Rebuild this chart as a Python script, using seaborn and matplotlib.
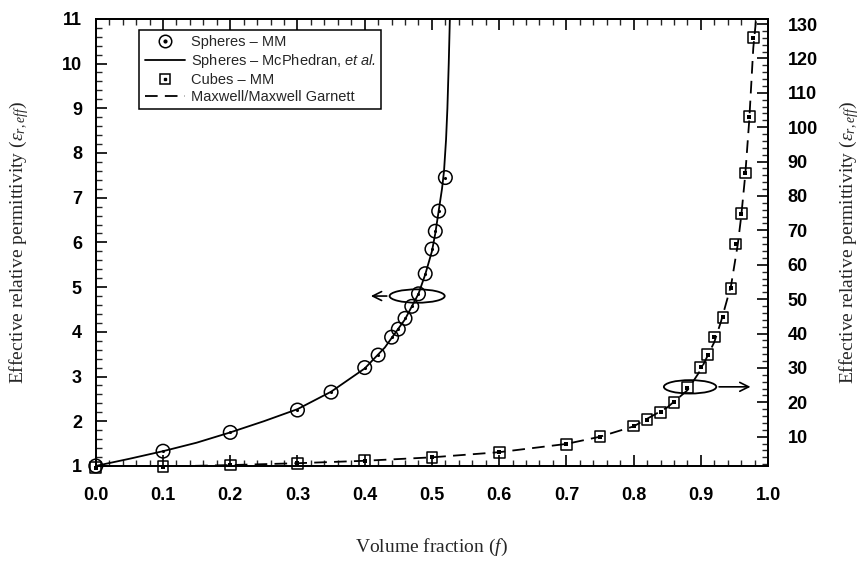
import matplotlib
matplotlib.use("Agg")
import matplotlib.pyplot as plt
import seaborn as sns
from matplotlib.lines import Line2D
from matplotlib.patches import Ellipse, FancyArrowPatch
from matplotlib.ticker import MultipleLocator

# ---------------- data ----------------
# Spheres - MM (circles), left axis
sph_f = [0.0, 0.1, 0.2, 0.3, 0.35, 0.4, 0.42, 0.44, 0.45, 0.46, 0.47, 0.48,
         0.49, 0.50, 0.505, 0.51, 0.52]
sph_eps = [1.0, 1.33, 1.75, 2.25, 2.65, 3.2, 3.48, 3.88, 4.06, 4.3, 4.57, 4.85,
           5.3, 5.85, 6.25, 6.7, 7.45]

# Spheres - McPhedran et al. (solid line), left axis
mcp_f = [0.0, 0.05, 0.1, 0.15, 0.2, 0.25, 0.3, 0.35, 0.4, 0.43, 0.46, 0.48,
         0.49, 0.50, 0.505, 0.51, 0.515, 0.518, 0.521, 0.523, 0.525, 0.527]
mcp_eps = [1.0, 1.16, 1.33, 1.52, 1.75, 2.0, 2.27, 2.66, 3.18, 3.65, 4.28, 4.85,
           5.28, 5.8, 6.2, 6.7, 7.2, 7.6, 8.3, 9.0, 10.0, 11.2]

# Cubes - MM (squares), right axis
cub_f = [0.0, 0.1, 0.2, 0.3, 0.4, 0.5, 0.6, 0.7, 0.75, 0.8, 0.82, 0.84, 0.86,
         0.88, 0.9, 0.91, 0.92, 0.933, 0.945, 0.952, 0.96, 0.966, 0.972, 0.978]
cub_eps = [1.0, 1.3, 1.75, 2.3, 3.0, 4.0, 5.5, 7.8, 10.0, 13.1, 15.0, 17.1, 20.0,
           24.2, 30.2, 33.9, 39.0, 44.7, 53.2, 66.0, 74.8, 86.7, 103.0, 126.0]

# Maxwell / Maxwell Garnett (dashed line), right axis
mg_f = [0.0, 0.1, 0.2, 0.3, 0.4, 0.5, 0.6, 0.7, 0.75, 0.8, 0.85, 0.88, 0.9,
        0.92, 0.93, 0.945, 0.955, 0.96, 0.966, 0.972, 0.978, 0.982]
mg_eps = [1.0, 1.33, 1.75, 2.29, 3.0, 4.0, 5.5, 7.9, 10.0, 13.0, 18.5, 23.5, 29.5,
          37.5, 43.5, 54.0, 66.0, 74.0, 86.0, 102.0, 123.0, 131.0]

x_ticks = [0.0, 0.1, 0.2, 0.3, 0.4, 0.5, 0.6, 0.7, 0.8, 0.9, 1.0]
x_ticklabels = ["0.0", "0.1", "0.2", "0.3", "0.4", "0.5", "0.6", "0.7", "0.8", "0.9", "1.0"]
left_ticks = [1, 2, 3, 4, 5, 6, 7, 8, 9, 10, 11]
right_ticks = [10, 20, 30, 40, 50, 60, 70, 80, 90, 100, 110, 120, 130]

legend_labels = ["Spheres \u2013 MM", "Spheres \u2013 McPhedran, $\\mathsf{et\\ al.}$",
                 "Cubes \u2013 MM", "Maxwell/Maxwell Garnett"]
xlabel = "Volume fraction ($f$)"
ylabel = "Effective relative permittivity ($\\varepsilon_{r,\\mathit{eff}}$)"

# ---------------- style ----------------
sns.set_style("ticks")
plt.rcParams["font.family"] = ["Liberation Sans", "DejaVu Sans"]
plt.rcParams["mathtext.fontset"] = "custom"
plt.rcParams["mathtext.rm"] = "Liberation Serif"
plt.rcParams["mathtext.it"] = "Liberation Serif:italic"
plt.rcParams["mathtext.sf"] = "Liberation Sans:italic"

fig = plt.figure(figsize=(8.63, 5.71), dpi=100)
ax = fig.add_axes([0.111, 0.184, 0.779, 0.783])
ax2 = ax.twinx()

# left axis series
sns.lineplot(x=mcp_f, y=mcp_eps, ax=ax, color="black", lw=1.3, estimator=None, sort=False)
sns.scatterplot(x=sph_f, y=sph_eps, ax=ax, marker="o", s=95, facecolors="none",
                edgecolor="black", linewidth=1.1, zorder=3, clip_on=False)
sns.scatterplot(x=sph_f, y=sph_eps, ax=ax, marker="o", s=5, color="black",
                linewidth=0, zorder=4, clip_on=False)

# right axis series
sns.lineplot(x=mg_f, y=mg_eps, ax=ax2, color="black", lw=1.3, estimator=None,
             sort=False, dashes=False, linestyle=(0, (7, 4)))
sns.scatterplot(x=cub_f, y=cub_eps, ax=ax2, marker="s", s=60, facecolors="none",
                edgecolor="black", linewidth=1.1, zorder=3, clip_on=False)
sns.scatterplot(x=cub_f, y=cub_eps, ax=ax2, marker="s", s=5, color="black",
                linewidth=0, zorder=4, clip_on=False)

# axes limits / ticks
ax.set_xlim(0, 1.0)
ax.set_ylim(1, 11)
ax2.set_ylim(1.5, 131.5)
ax.set_xticks(x_ticks)
ax.set_xticklabels(x_ticklabels)
ax.set_yticks(left_ticks)
ax2.set_yticks(right_ticks)
ax.xaxis.set_minor_locator(MultipleLocator(0.02))
ax.yaxis.set_minor_locator(MultipleLocator(0.2))
ax2.yaxis.set_minor_locator(MultipleLocator(2))

for a in (ax, ax2):
    for s in a.spines.values():
        s.set_linewidth(1.3)
        s.set_color("black")
ax.tick_params(axis="both", which="major", direction="in", length=8, width=1.2,
               top=True, right=False, labelsize=13, colors="black")
ax.tick_params(axis="x", which="major", pad=15)
ax.tick_params(axis="y", which="major", pad=10)
ax.tick_params(axis="both", which="minor", direction="in", length=4, width=1.0,
               top=True, right=False)
ax2.tick_params(axis="y", which="major", direction="in", length=8, width=1.2,
                labelsize=13, colors="black", pad=14)
ax2.tick_params(axis="y", which="minor", direction="in", length=4, width=1.0)
for lab in ax.get_xticklabels() + ax.get_yticklabels() + ax2.get_yticklabels():
    lab.set_fontweight("bold")

ax.set_xlabel(xlabel, fontfamily="Liberation Serif", fontsize=14, labelpad=24)
ax.set_ylabel(ylabel, fontfamily="Liberation Serif", fontsize=14, labelpad=22)
ax2.set_ylabel(ylabel, fontfamily="Liberation Serif", fontsize=14, labelpad=14,
               rotation=90)

# annotations (ellipse + arrow)
ax.add_patch(Ellipse((0.478, 4.8), 0.082, 0.30, fill=False, lw=1.3, ec="black", zorder=5))
ax.add_patch(FancyArrowPatch((0.437, 4.8), (0.405, 4.8), arrowstyle="->",
                             mutation_scale=16, lw=1.2, color="black", zorder=5))
ax2.add_patch(Ellipse((0.884, 24.5), 0.078, 3.9, fill=False, lw=1.3, ec="black", zorder=5))
ax2.add_patch(FancyArrowPatch((0.923, 24.5), (0.978, 24.5), arrowstyle="->",
                              mutation_scale=16, lw=1.2, color="black", zorder=5))

# legend
h1 = (Line2D([], [], marker="o", ls="none", mfc="none", mec="black", ms=9, mew=1.1),
      Line2D([], [], marker="o", ls="none", color="black", ms=2))
h2 = Line2D([], [], color="black", lw=1.3)
h3 = (Line2D([], [], marker="s", ls="none", mfc="none", mec="black", ms=7, mew=1.1),
      Line2D([], [], marker="s", ls="none", color="black", ms=2))
h4 = Line2D([], [], color="black", lw=1.3, ls=(0, (7, 4)))
leg = ax2.legend(handles=[h1, h2, h3, h4], labels=legend_labels, loc="upper left",
                 bbox_to_anchor=(0.065, 0.975), borderaxespad=0, frameon=True,
                 fancybox=False, edgecolor="black", framealpha=1, fontsize=10.5,
                 handlelength=2.8, labelspacing=0.2, borderpad=0.35, handletextpad=0.4)
leg.get_frame().set_linewidth(1.1)

fig.savefig("out.png", dpi=100, facecolor="white")
